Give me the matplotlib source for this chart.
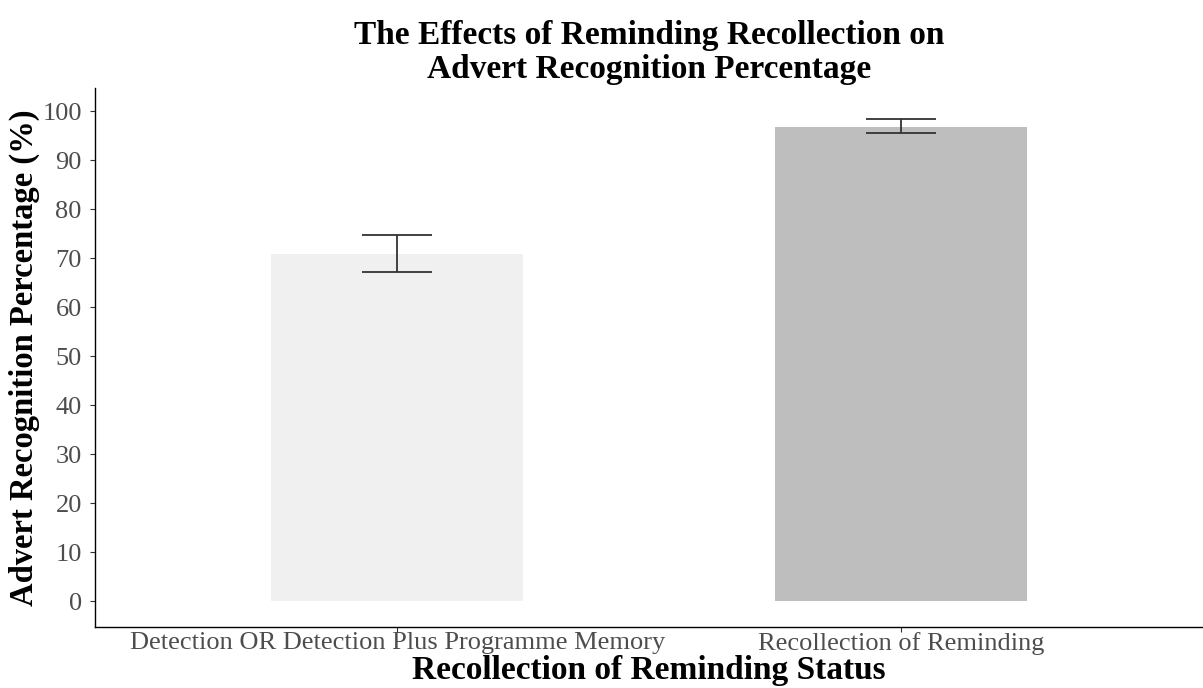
import matplotlib.pyplot as plt
import numpy as np

plt.rcParams['font.family'] = ['Liberation Serif', 'DejaVu Serif']

groups = ["Detection OR Detection Plus Programme Memory", "Recollection of Reminding"]
means = [70.9, 96.8]
err_low = [67.2, 95.6]
err_high = [74.8, 98.3]
bar_colors = ["#F0F0F0", "#BEBEBE"]
yticks = [0, 10, 20, 30, 40, 50, 60, 70, 80, 90, 100]

fig = plt.figure(figsize=(12.03, 6.88), dpi=100)
ax = fig.add_axes([95 / 1203, 61 / 688, 1108 / 1203, 539 / 688])

x = np.arange(1, len(groups) + 1)
ax.bar(x, means, width=0.5, color=bar_colors, zorder=1)

# error bars drawn as line + caps
lo = np.array(means) - np.array(err_low)
hi = np.array(err_high) - np.array(means)
ax.errorbar(x, means, yerr=[lo, hi], fmt='none', ecolor='#333333',
            elinewidth=1.3, capsize=25, capthick=1.3, zorder=2)

ax.set_xlim(0.4, 2.6)
ax.set_ylim(-5.3, 104.7)
ax.set_xticks(x)
ax.set_xticklabels(groups)
ax.set_yticks(yticks)

for side in ['top', 'right']:
    ax.spines[side].set_visible(False)
for side in ['left', 'bottom']:
    ax.spines[side].set_linewidth(1.0)
    ax.spines[side].set_color('black')

ax.tick_params(axis='both', colors='#333333', labelcolor='#4D4D4D',
               labelsize=19, length=3.5, width=0.8)
ax.tick_params(axis='y', pad=6)
ax.tick_params(axis='x', pad=0)

ax.set_ylabel("Advert Recognition Percentage (%)", fontsize=23.5,
              fontweight='bold', labelpad=2)
ax.set_xlabel("Recollection of Reminding Status", fontsize=24,
              fontweight='bold', labelpad=0)
ax.set_title("The Effects of Reminding Recollection on\nAdvert Recognition Percentage",
             fontsize=24, fontweight='bold', linespacing=1.12, pad=7)

fig.savefig("out.png", dpi=100)
